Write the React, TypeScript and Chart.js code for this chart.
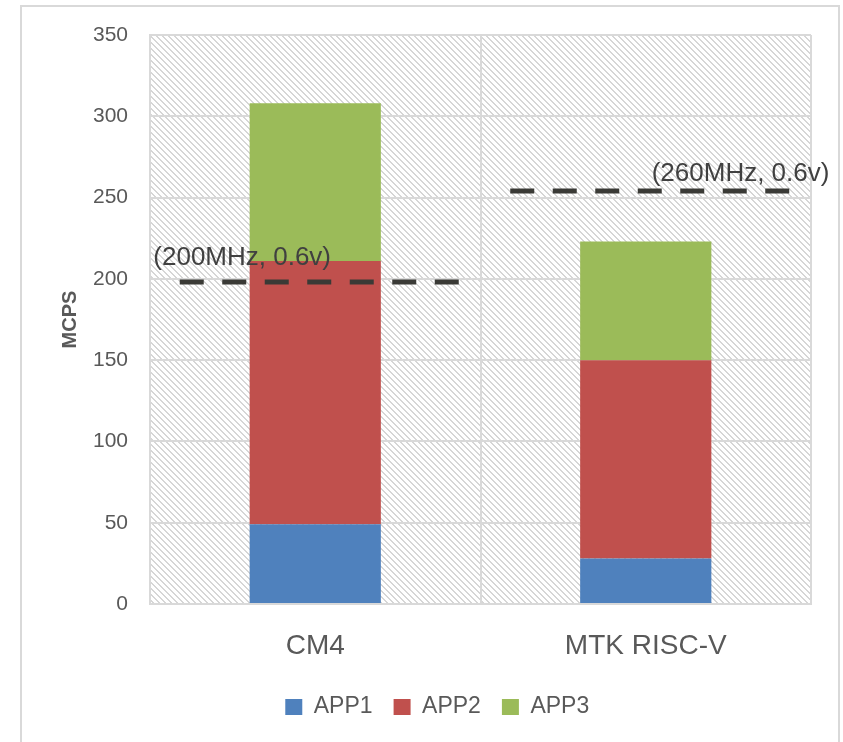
import React, { useEffect, useRef } from "react";
import { Chart, registerables } from "chart.js";

Chart.register(...registerables);

const categories = ["CM4", "MTK RISC-V"];
const seriesNames = ["APP1", "APP2", "APP3"];
const app1 = [49, 28];
const app2 = [162, 122];
const app3 = [97, 73];
const seriesColors = ["#4F81BD", "#C0504D", "#9BBB59"];
const limitValues = [198, 254];
const limitLabels = ["(200MHz, 0.6v)", "(260MHz, 0.6v)"];
const yMin = 0;
const yMax = 350;
const yStep = 50;
const yTitle = "MCPS";

const FONT = "'Liberation Sans', Arial, sans-serif";
const TEXT = "#595959";
const GRID = "#d9d9d9";

const hatchPlugin = {
  id: "hatch",
  beforeDraw(chart: any) {
    const { ctx, chartArea: a } = chart;
    const size = 6;
    const tile = document.createElement("canvas");
    tile.width = size;
    tile.height = size;
    const t = tile.getContext("2d")!;
    t.fillStyle = "#d6d6d6";
    for (let i = 0; i < size; i++) {
      t.fillRect(i, i, 1, 1);
      t.fillRect((i + 1) % size, i, 1, 1);
    }
    const pat = ctx.createPattern(tile, "repeat");
    ctx.save();
    ctx.fillStyle = pat;
    ctx.fillRect(a.left, a.top, a.right - a.left, a.bottom - a.top);
    ctx.restore();
  },
};

const yTitlePlugin = {
  id: "yTitle",
  afterDraw(chart: any) {
    const { ctx, chartArea: a } = chart;
    ctx.save();
    ctx.translate(a.left - 80, (a.top + a.bottom) / 2);
    ctx.rotate(-Math.PI / 2);
    ctx.font = `bold 20px ${FONT}`;
    ctx.fillStyle = TEXT;
    ctx.textAlign = "center";
    ctx.textBaseline = "middle";
    ctx.fillText(yTitle, 0, 0);
    ctx.restore();
  },
};

const limitPlugin = {
  id: "limits",
  afterDatasetsDraw(chart: any) {
    const { ctx } = chart;
    const xs = chart.scales.x;
    const ys = chart.scales.y;
    const w = (xs.right - xs.left) / categories.length;
    const labelStyle = [
      { dx: -0.49, dy: -17 },
      { dx: 0.018, dy: -10 },
    ];
    limitValues.forEach((v, i) => {
      const c = xs.getPixelForValue(i);
      const py = ys.getPixelForValue(v);
      ctx.save();
      ctx.beginPath();
      ctx.setLineDash([24, 18.5]);
      ctx.lineWidth = 5;
      ctx.strokeStyle = "#3a3a36";
      ctx.moveTo(c - 0.41 * w, py);
      ctx.lineTo(c + 0.45 * w, py);
      ctx.stroke();
      ctx.setLineDash([]);
      ctx.font = `26px ${FONT}`;
      ctx.fillStyle = "#404040";
      ctx.textAlign = "left";
      ctx.textBaseline = "alphabetic";
      const s = labelStyle[i];
      ctx.fillText(limitLabels[i], c + s.dx * w, py + s.dy);
      ctx.restore();
    });
  },
};

export default function App() {
  const ref = useRef<HTMLCanvasElement>(null);
  useEffect(() => {
    const values = [app1, app2, app3];
    const chart = new Chart(ref.current!, {
      type: "bar",
      data: {
        labels: categories,
        datasets: seriesNames.map((name, i) => ({
          label: name,
          data: values[i],
          backgroundColor: seriesColors[i],
          borderWidth: 0,
          categoryPercentage: 1,
          barPercentage: 0.397,
        })),
      },
      options: {
        responsive: false,
        animation: false,
        layout: { padding: { left: 63.5, right: 32, top: 35, bottom: 13.5 } },
        plugins: {
          tooltip: { enabled: false },
          legend: {
            position: "bottom",
            labels: {
              boxWidth: 17,
              boxHeight: 16,
              padding: 21,
              color: TEXT,
              font: { family: FONT, size: 23 },
            },
          },
        },
        scales: {
          x: {
            stacked: true,
            grid: { color: GRID, lineWidth: 2, drawTicks: false },
            border: { color: GRID, width: 2 },
            ticks: { color: TEXT, font: { family: FONT, size: 28 }, padding: 25 },
            afterFit: (s: any) => {
              s.height = 70.5;
            },
          },
          y: {
            stacked: true,
            min: yMin,
            max: yMax,
            grid: { color: GRID, lineWidth: 2, drawTicks: false },
            border: { color: GRID, width: 2 },
            ticks: { stepSize: yStep, color: TEXT, font: { family: FONT, size: 21 }, padding: 22 },
            afterFit: (s: any) => {
              s.width = 86.5;
            },
          },
        },
      },
      plugins: [hatchPlugin, limitPlugin, yTitlePlugin],
    } as any);
    return () => chart.destroy();
  }, []);

  return (
    <div>
      <div
        style={{
          position: "absolute",
          left: 20,
          top: 5,
          width: 820,
          height: 737,
          boxSizing: "border-box",
          border: `2px solid ${GRID}`,
          borderBottom: "none",
        }}
      />
      <canvas
        ref={ref}
        width={843}
        height={742}
        style={{ position: "absolute", left: 0, top: 0, width: 843, height: 742 }}
      />
    </div>
  );
}
